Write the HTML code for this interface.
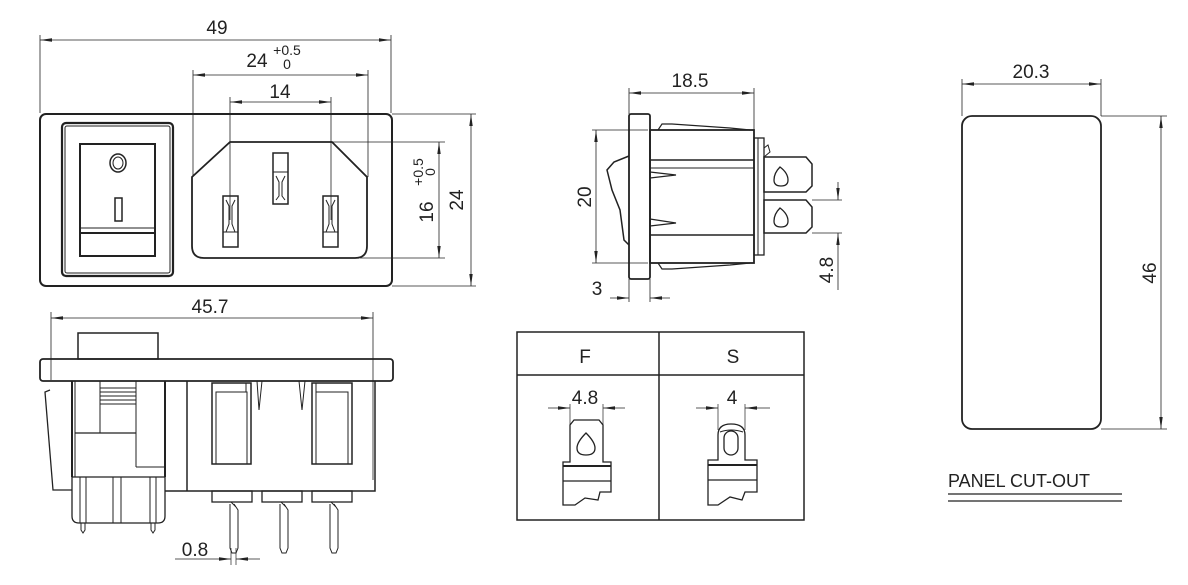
<!DOCTYPE html>
<html><head><meta charset="utf-8"><style>
html,body{margin:0;padding:0;background:#fff;}
svg{display:block;}
text{font-family:"Liberation Sans",sans-serif;fill:#222;}
</style></head><body>
<svg width="1188" height="585" viewBox="0 0 1188 585" xmlns="http://www.w3.org/2000/svg">
<defs>
<marker id="a" viewBox="0 0 12 6" refX="12" refY="3" markerWidth="12" markerHeight="6" orient="auto-start-reverse" markerUnits="userSpaceOnUse"><path d="M0,1.3 L12,3 L0,4.7 Z" fill="#222"/></marker>
</defs>
<g fill="none" stroke="#222" stroke-width="1">
<rect x="40" y="114" width="352" height="172" rx="6" stroke-width="2"/>
<rect x="62" y="123" width="111" height="153" rx="4" stroke-width="2.2"/>
<rect x="65" y="126" width="105" height="147" rx="2"/>
<rect x="80" y="144" width="75" height="112" stroke-width="2"/>
<line x1="80" y1="228" x2="155" y2="228"/><line x1="80" y1="233" x2="155" y2="233" stroke-width="2"/>
<ellipse cx="118" cy="163" rx="8" ry="9" stroke-width="1.5"/><ellipse cx="118" cy="163" rx="5" ry="6"/>
<rect x="115" y="198" width="7" height="23" stroke-width="1.5"/>
<path d="M230,142 L332,142 L367,177 L367,246 Q367,258 355,258 L204,258 Q192,258 192,246 L192,177 Z" stroke-width="1.8"/>
<rect x="223" y="196" width="15" height="51" stroke-width="1.5"/><path d="M226,200 L229,206 L229,224 L226,232 M235,200 L232,206 L232,224 L235,232 M223,232 L238,232"/>
<rect x="323" y="196" width="15" height="51" stroke-width="1.5"/><path d="M326,200 L329,206 L329,224 L326,232 M335,200 L332,206 L332,224 L335,232 M323,232 L338,232"/>
<rect x="273" y="153" width="15" height="51" stroke-width="1.5"/><path d="M273,172 L288,172 M276,176 L279,182 L279,196 L276,200 M285,176 L282,182 L282,196 L285,200"/>
<line x1="40" y1="35" x2="40" y2="113" stroke-width="0.8"/><line x1="391" y1="35" x2="391" y2="113" stroke-width="0.8"/>
<line x1="40" y1="40" x2="391" y2="40" marker-start="url(#a)" marker-end="url(#a)" stroke-width="0.8"/>
<line x1="193" y1="70" x2="193" y2="177" stroke-width="0.8"/><line x1="368" y1="70" x2="368" y2="177" stroke-width="0.8"/>
<line x1="193" y1="75" x2="368" y2="75" marker-start="url(#a)" marker-end="url(#a)" stroke-width="0.8"/>
<line x1="230" y1="97" x2="230" y2="220" stroke-width="0.8"/><line x1="331" y1="97" x2="331" y2="220" stroke-width="0.8"/>
<line x1="230" y1="102" x2="331" y2="102" marker-start="url(#a)" marker-end="url(#a)" stroke-width="0.8"/>
<line x1="392" y1="114" x2="476" y2="114" stroke-width="0.8"/><line x1="392" y1="286" x2="476" y2="286" stroke-width="0.8"/>
<line x1="471" y1="114" x2="471" y2="286" marker-start="url(#a)" marker-end="url(#a)" stroke-width="0.8"/>
<line x1="332" y1="142" x2="445" y2="142" stroke-width="0.8"/><line x1="360" y1="258" x2="445" y2="258" stroke-width="0.8"/>
<line x1="439" y1="142" x2="439" y2="258" marker-start="url(#a)" marker-end="url(#a)" stroke-width="0.8"/>

<line x1="51" y1="312" x2="51" y2="380" stroke-width="0.8"/><line x1="373" y1="312" x2="373" y2="480" stroke-width="0.8"/>
<line x1="51" y1="318" x2="373" y2="318" marker-start="url(#a)" marker-end="url(#a)" stroke-width="0.8"/>
<rect x="78" y="333" width="80" height="26" stroke-width="1.5"/>
<rect x="40" y="359" width="353" height="22" rx="3" stroke-width="1.8"/>
<path d="M50,390 L45,392 L53,490 L72,490" stroke-width="1.3"/>
<line x1="72" y1="381" x2="72" y2="477" stroke-width="2"/>
<line x1="75" y1="381" x2="75" y2="477"/>
<line x1="165" y1="381" x2="165" y2="477" stroke-width="2"/>
<line x1="187" y1="381" x2="187" y2="491" stroke-width="1.5"/>
<path d="M165,491 L375,491 L375,381" stroke-width="1.5"/>
<line x1="100" y1="381" x2="100" y2="433"/><line x1="136" y1="381" x2="136" y2="467"/>
<line x1="75" y1="433" x2="136" y2="433" stroke-width="1.3"/><line x1="136" y1="467" x2="165" y2="467"/>
<path d="M100,388 L136,388 M100,392 L136,392 M100,396 L136,396 M100,400 L136,400 M100,404 L136,404"/>
<path d="M72,477 L72,516 Q72,523 79,523 L158,523 Q165,523 165,516 L165,477 Z" stroke-width="1.3"/>
<path d="M80,477 L80,523 M86,477 L86,523 M150,477 L150,523 M156,477 L156,523 M113,477 L113,523 M121,477 L121,523"/>
<path d="M81,523 L81,530 L83,533 L85,530 L85,523 M151,523 L151,530 L153,533 L155,530 L155,523"/>
<rect x="212" y="383" width="39" height="81" stroke-width="1.5"/><rect x="216" y="392" width="31" height="72"/><line x1="246" y1="383" x2="246" y2="392"/>
<rect x="312" y="383" width="40" height="81" stroke-width="1.5"/><rect x="316" y="392" width="32" height="72"/><line x1="316" y1="383" x2="316" y2="392"/>
<path d="M257,381 L259,410 L262,381 M299,381 L302,410 L305,381"/>
<rect x="212" y="491" width="40" height="11" stroke-width="1.3"/>
<rect x="262" y="491" width="40" height="11" stroke-width="1.3"/>
<rect x="312" y="491" width="40" height="11" stroke-width="1.3"/>
<path d="M230,504 L230,548 L232,553 L236,553 L238,548 L238,510 L234,504 M231,502 L236,507"/>
<path d="M280,504 L280,548 L282,553 L286,553 L288,548 L288,510 L284,504 M281,502 L286,507"/>
<path d="M330,504 L330,548 L332,553 L336,553 L338,548 L338,510 L334,504 M331,502 L336,507"/>
<line x1="231" y1="548" x2="231" y2="565" stroke-width="0.7"/><line x1="236" y1="548" x2="236" y2="565" stroke-width="0.7"/>
<line x1="175" y1="559" x2="231" y2="559" marker-end="url(#a)" stroke-width="0.8"/>
<line x1="260" y1="559" x2="236" y2="559" marker-end="url(#a)" stroke-width="0.8"/>

<line x1="629" y1="88" x2="629" y2="114" stroke-width="0.8"/><line x1="754" y1="88" x2="754" y2="130" stroke-width="0.8"/>
<line x1="629" y1="93" x2="754" y2="93" marker-start="url(#a)" marker-end="url(#a)" stroke-width="0.8"/>
<rect x="629" y="114" width="21" height="165" rx="2" stroke-width="1.8"/>
<rect x="650" y="130" width="104" height="133" stroke-width="1.8"/>
<line x1="650" y1="160" x2="754" y2="160" stroke-width="1.5"/><line x1="650" y1="168" x2="754" y2="168"/><line x1="650" y1="235" x2="754" y2="235" stroke-width="1.5"/>
<path d="M658,130 L662,124 L672,124 L730,128 L750,130" stroke-width="1.2"/>
<path d="M658,263 L662,269 L672,269 L730,265 L750,263" stroke-width="1.2"/>
<path d="M650,172 L676,175 L650,178 M650,219 L676,223 L650,226" stroke-width="1.2"/>
<path d="M629,156 L614,162 L607,170 L612,190 L620,210 L624,240 L629,245" stroke-width="1.5"/>
<rect x="754" y="138" width="10" height="117" stroke-width="1.3"/><line x1="758" y1="138" x2="758" y2="255"/>
<path d="M764,157 L806,157 L812,164 L812,186 L806,192 L764,192 Z" stroke-width="1.5"/>
<path d="M764,200 L806,200 L812,207 L812,227 L806,233 L764,233 Z" stroke-width="1.5"/>
<path d="M764,148 L768,145 L770,152 L764,157" />
<path d="M780,167 Q774,173 774,180 Q774,186 781,186 Q788,186 788,180 Q788,173 780,167 Z" stroke-width="1.3"/>
<path d="M780,208 Q774,214 774,221 Q774,227 781,227 Q788,227 788,221 Q788,214 780,208 Z" stroke-width="1.3"/>
<line x1="592" y1="130" x2="648" y2="130" stroke-width="0.8"/><line x1="592" y1="263" x2="648" y2="263" stroke-width="0.8"/>
<line x1="596" y1="130" x2="596" y2="263" marker-start="url(#a)" marker-end="url(#a)" stroke-width="0.8"/>
<line x1="812" y1="200" x2="842" y2="200" stroke-width="0.8"/><line x1="812" y1="233" x2="842" y2="233" stroke-width="0.8"/>
<line x1="838" y1="182" x2="838" y2="200" marker-end="url(#a)" stroke-width="0.8"/>
<line x1="838" y1="290" x2="838" y2="233" marker-end="url(#a)" stroke-width="0.8"/>
<line x1="629" y1="279" x2="629" y2="302" stroke-width="0.8"/><line x1="650" y1="279" x2="650" y2="302" stroke-width="0.8"/>
<line x1="610" y1="298" x2="629" y2="298" marker-end="url(#a)" stroke-width="0.8"/>
<line x1="670" y1="298" x2="650" y2="298" marker-end="url(#a)" stroke-width="0.8"/>

<rect x="517" y="332" width="287" height="188" stroke-width="1.5"/>
<line x1="517" y1="375" x2="804" y2="375" stroke-width="1.5"/>
<line x1="659" y1="332" x2="659" y2="520" stroke-width="1.5"/>
<path d="M570,462 L570,425 L574,420 L599,420 L603,425 L603,462 L611,462 L611,492 L600,492 L598,500 L585,498 L575,505 L563,505 L563,462 Z" stroke-width="1.3"/>
<line x1="563" y1="466" x2="611" y2="466" stroke-width="2"/><line x1="563" y1="481" x2="611" y2="481" stroke-width="1.3"/>
<path d="M586,433 Q577,442 577,448 Q577,455 586,455 Q595,455 595,448 Q595,442 586,433 Z" stroke-width="1.3"/>
<line x1="570" y1="404" x2="570" y2="425" stroke-width="0.7"/><line x1="603" y1="404" x2="603" y2="425" stroke-width="0.7"/>
<line x1="548" y1="408" x2="570" y2="408" marker-end="url(#a)" stroke-width="0.8"/><line x1="625" y1="408" x2="603" y2="408" marker-end="url(#a)" stroke-width="0.8"/>
<path d="M718,460 L718,435 Q718,424 731,424 Q745,424 745,435 L745,460 L757,460 L757,492 L745,492 L742,500 L730,497 L718,505 L708,505 L708,460 Z" stroke-width="1.3"/>
<path d="M720,432 Q731,428 743,432"/>
<line x1="708" y1="465" x2="757" y2="465" stroke-width="2"/><line x1="708" y1="480" x2="757" y2="480" stroke-width="1.3"/>
<rect x="724" y="431" width="14" height="24" rx="7" stroke-width="1.3"/>
<line x1="718" y1="404" x2="718" y2="430" stroke-width="0.7"/><line x1="745" y1="404" x2="745" y2="430" stroke-width="0.7"/>
<line x1="696" y1="408" x2="718" y2="408" marker-end="url(#a)" stroke-width="0.8"/><line x1="770" y1="408" x2="745" y2="408" marker-end="url(#a)" stroke-width="0.8"/>

<rect x="962" y="116" width="139" height="313" rx="10" stroke-width="1.8"/>
<line x1="962" y1="79" x2="962" y2="116" stroke-width="0.8"/><line x1="1101" y1="79" x2="1101" y2="116" stroke-width="0.8"/>
<line x1="962" y1="84" x2="1101" y2="84" marker-start="url(#a)" marker-end="url(#a)" stroke-width="0.8"/>
<line x1="1101" y1="116" x2="1167" y2="116" stroke-width="0.8"/><line x1="1101" y1="429" x2="1167" y2="429" stroke-width="0.8"/>
<line x1="1161" y1="116" x2="1161" y2="429" marker-start="url(#a)" marker-end="url(#a)" stroke-width="0.8"/>
<line x1="948" y1="494" x2="1122" y2="494" stroke-width="1.3"/><line x1="948" y1="501" x2="1122" y2="501" stroke-width="1.3"/>
</g>

<g font-size="19">
<text x="217" y="34" text-anchor="middle">49</text>
<text x="257" y="67" text-anchor="middle">24</text>
<text x="287" y="55" font-size="14" text-anchor="middle">+0.5</text>
<text x="287" y="69" font-size="14" text-anchor="middle">0</text>
<text x="280" y="98" text-anchor="middle">14</text>
<text transform="translate(463,200) rotate(-90)" text-anchor="middle">24</text>
<text transform="translate(433,212) rotate(-90)" text-anchor="middle">16</text>
<text transform="translate(423,172) rotate(-90)" font-size="14" text-anchor="middle">+0.5</text>
<text transform="translate(435,172) rotate(-90)" font-size="14" text-anchor="middle">0</text>
<text x="210" y="313" text-anchor="middle">45.7</text>
<text x="195" y="556" text-anchor="middle">0.8</text>
<text x="690" y="87" text-anchor="middle">18.5</text>
<text transform="translate(591,197) rotate(-90)" text-anchor="middle">20</text>
<text transform="translate(833,270) rotate(-90)" text-anchor="middle">4.8</text>
<text x="597" y="295" text-anchor="middle">3</text>
<text x="585" y="363" text-anchor="middle">F</text>
<text x="733" y="363" text-anchor="middle">S</text>
<text x="585" y="404" text-anchor="middle">4.8</text>
<text x="732" y="404" text-anchor="middle">4</text>
<text x="1031" y="78" text-anchor="middle">20.3</text>
<text transform="translate(1156,273) rotate(-90)" text-anchor="middle">46</text>
<text x="948" y="487" font-size="18">PANEL CUT-OUT</text>
</g>
</svg>
</body></html>
